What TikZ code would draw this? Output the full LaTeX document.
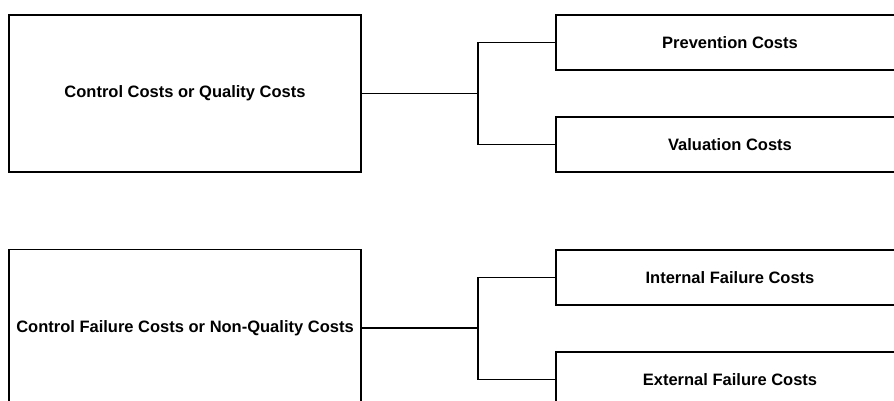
\documentclass[tikz,border=0pt]{standalone}
\usepackage{fontspec}
\setmainfont{Liberation Sans}

\begin{document}
\begin{tikzpicture}[x=1pt,y=-1pt,
    costbox/.style={draw, line width=1.6pt, inner sep=0pt,
      minimum width=352pt, minimum height=157pt,
      font=\bfseries\fontsize{16.5}{19}\selectfont},
    subbox/.style={draw, line width=1.6pt, inner sep=0pt,
      minimum width=348pt, minimum height=55pt,
      font=\bfseries\fontsize{16.5}{19}\selectfont},
    link/.style={line width=1.5pt}]
    \useasboundingbox (0,0) rectangle (894,401);
    \clip (0,0) rectangle (894,401);
    % quality costs
    \node[costbox] (ctrl) at (185,93.5) {Control Costs or Quality Costs};
    \node[subbox] (prev) at (730,42.5) {Prevention Costs};
    \node[subbox] (val) at (730,144.5) {Valuation Costs};
    \draw[link] (ctrl.east) -- ++(116,0) |- (prev.west);
    \draw[link] (ctrl.east) -- ++(116,0) |- (val.west);
    % non-quality costs
    \node[costbox] (fail) at (185,328) {Control Failure Costs or Non-Quality Costs};
    \node[subbox] (intf) at (730,277.5) {Internal Failure Costs};
    \node[subbox] (extf) at (730,379.5) {External Failure Costs};
    \draw[link] (fail.east) -- ++(116,0) |- (intf.west);
    \draw[link] (fail.east) -- ++(116,0) |- (extf.west);
\end{tikzpicture}
\end{document}
